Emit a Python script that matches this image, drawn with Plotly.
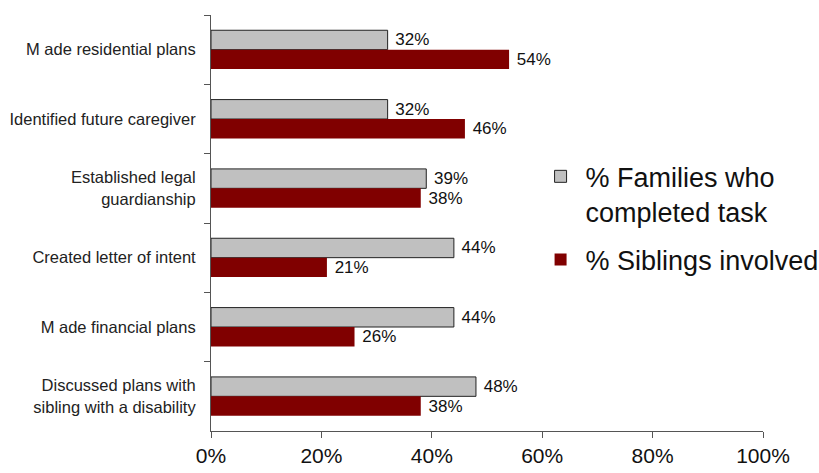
import plotly.graph_objects as go

categories = [
    "M ade residential plans",
    "Identified future caregiver",
    "Established legal<br>guardianship",
    "Created letter of intent",
    "M ade financial plans",
    "Discussed plans with<br>sibling with a disability",
]
families = [32, 32, 39, 44, 44, 48]
siblings = [54, 46, 38, 21, 26, 38]
x_ticks = [0, 20, 40, 60, 80, 100]
x_tick_labels = ["0%", "20%", "40%", "60%", "80%", "100%"]

font_family = "Liberation Sans, Arial, sans-serif"
pad = "\u00a0"

fig = go.Figure()
fig.add_trace(go.Bar(
    y=categories, x=families, orientation="h",
    name="% Families who<br>completed task", legendgroup="fam",
    marker=dict(color="#C0C0C0", line=dict(color="#222222", width=1)),
    text=[f"{pad}{v}%" for v in families], textposition="outside",
    textfont=dict(size=17, color="#111111", family=font_family),
    cliponaxis=False,
))
fig.add_trace(go.Bar(
    y=categories, x=siblings, orientation="h",
    name="% Siblings involved", legendgroup="sib",
    marker=dict(color="#800000", line=dict(color="#800000", width=0)),
    text=[f"{pad}{v}%" for v in siblings], textposition="outside",
    textfont=dict(size=17, color="#111111", family=font_family),
    cliponaxis=False,
))

fig.update_layout(
    width=819, height=473,
    margin=dict(l=211, r=56, t=15, b=42, autoexpand=False),
    paper_bgcolor="white", plot_bgcolor="white",
    barmode="group", bargap=0.44, bargroupgap=0,
    font=dict(family=font_family, color="#111111"),
    showlegend=True,
    legend=dict(
        x=0.588, y=0.67, xanchor="left", yanchor="top",
        bgcolor="rgba(0,0,0,0)",
        font=dict(size=27, color="#111111", family=font_family),
        tracegroupgap=10, valign="top", itemwidth=40,
    ),
)
fig.update_xaxes(
    range=[0, 100], tickvals=x_ticks, ticktext=x_tick_labels,
    showgrid=False, zeroline=False, automargin=False,
    showline=True, linecolor="#555555", linewidth=1,
    ticks="outside", ticklen=6, tickcolor="#555555",
    tickfont=dict(size=21, color="#111111"),
)
fig.update_yaxes(
    autorange="reversed", showgrid=False, automargin=False,
    showline=True, linecolor="#555555", linewidth=1,
    ticks="outside", ticklen=6, tickcolor="#555555",
    tickson="boundaries",
    tickfont=dict(size=16.5, color="#222222"),
    ticklabelstandoff=11,
)

fig.write_html(
    "out.html",
    config={"displayModeBar": False},
    post_script="document.body.style.margin='0';document.body.style.padding='0';",
)
